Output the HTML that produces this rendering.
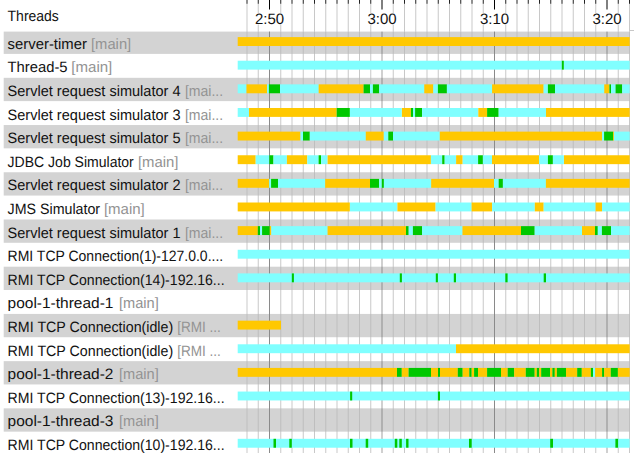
<!DOCTYPE html><html><head><meta charset="utf-8"><style>html,body{margin:0;padding:0;background:#fff;overflow:hidden;width:634px;height:453px}svg{display:block}text{font-family:"Liberation Sans",sans-serif;text-rendering:geometricPrecision}</style></head><body>
<svg width="634" height="453" viewBox="0 0 634 453">
<rect x="0" y="0" width="634" height="453" fill="#fff"/>
<rect x="3.7" y="31.6" width="626.1" height="22.3" fill="#d3d3d3"/>
<rect x="3.7" y="77.82" width="626.1" height="23.3" fill="#d3d3d3"/>
<rect x="3.7" y="125.04" width="626.1" height="23.3" fill="#d3d3d3"/>
<rect x="3.7" y="172.26" width="626.1" height="23.3" fill="#d3d3d3"/>
<rect x="3.7" y="219.48" width="626.1" height="23.3" fill="#d3d3d3"/>
<rect x="3.7" y="266.7" width="626.1" height="23.3" fill="#d3d3d3"/>
<rect x="3.7" y="313.92" width="626.1" height="23.3" fill="#d3d3d3"/>
<rect x="3.7" y="361.14" width="626.1" height="23.3" fill="#d3d3d3"/>
<rect x="3.7" y="408.36" width="626.1" height="23.3" fill="#d3d3d3"/>
<rect x="246.5" y="31.6" width="1" height="421.4" fill="#b8b8b8" fill-opacity="0.77"/>
<rect x="257.75" y="31.6" width="1" height="421.4" fill="#b8b8b8" fill-opacity="0.77"/>
<rect x="280.25" y="31.6" width="1" height="421.4" fill="#b8b8b8" fill-opacity="0.77"/>
<rect x="291.5" y="31.6" width="1" height="421.4" fill="#b8b8b8" fill-opacity="0.77"/>
<rect x="302.75" y="31.6" width="1" height="421.4" fill="#b8b8b8" fill-opacity="0.77"/>
<rect x="314" y="31.6" width="1" height="421.4" fill="#b8b8b8" fill-opacity="0.77"/>
<rect x="325.25" y="31.6" width="1" height="421.4" fill="#b8b8b8" fill-opacity="0.77"/>
<rect x="336.5" y="31.6" width="1" height="421.4" fill="#b8b8b8" fill-opacity="0.77"/>
<rect x="347.75" y="31.6" width="1" height="421.4" fill="#b8b8b8" fill-opacity="0.77"/>
<rect x="359" y="31.6" width="1" height="421.4" fill="#b8b8b8" fill-opacity="0.77"/>
<rect x="370.25" y="31.6" width="1" height="421.4" fill="#b8b8b8" fill-opacity="0.77"/>
<rect x="392.75" y="31.6" width="1" height="421.4" fill="#b8b8b8" fill-opacity="0.77"/>
<rect x="404" y="31.6" width="1" height="421.4" fill="#b8b8b8" fill-opacity="0.77"/>
<rect x="415.25" y="31.6" width="1" height="421.4" fill="#b8b8b8" fill-opacity="0.77"/>
<rect x="426.5" y="31.6" width="1" height="421.4" fill="#b8b8b8" fill-opacity="0.77"/>
<rect x="437.75" y="31.6" width="1" height="421.4" fill="#b8b8b8" fill-opacity="0.77"/>
<rect x="449" y="31.6" width="1" height="421.4" fill="#b8b8b8" fill-opacity="0.77"/>
<rect x="460.25" y="31.6" width="1" height="421.4" fill="#b8b8b8" fill-opacity="0.77"/>
<rect x="471.5" y="31.6" width="1" height="421.4" fill="#b8b8b8" fill-opacity="0.77"/>
<rect x="482.75" y="31.6" width="1" height="421.4" fill="#b8b8b8" fill-opacity="0.77"/>
<rect x="505.25" y="31.6" width="1" height="421.4" fill="#b8b8b8" fill-opacity="0.77"/>
<rect x="516.5" y="31.6" width="1" height="421.4" fill="#b8b8b8" fill-opacity="0.77"/>
<rect x="527.75" y="31.6" width="1" height="421.4" fill="#b8b8b8" fill-opacity="0.77"/>
<rect x="539" y="31.6" width="1" height="421.4" fill="#b8b8b8" fill-opacity="0.77"/>
<rect x="550.25" y="31.6" width="1" height="421.4" fill="#b8b8b8" fill-opacity="0.77"/>
<rect x="561.5" y="31.6" width="1" height="421.4" fill="#b8b8b8" fill-opacity="0.77"/>
<rect x="572.75" y="31.6" width="1" height="421.4" fill="#b8b8b8" fill-opacity="0.77"/>
<rect x="584" y="31.6" width="1" height="421.4" fill="#b8b8b8" fill-opacity="0.77"/>
<rect x="595.25" y="31.6" width="1" height="421.4" fill="#b8b8b8" fill-opacity="0.77"/>
<rect x="617.75" y="31.6" width="1" height="421.4" fill="#b8b8b8" fill-opacity="0.77"/>
<rect x="629" y="31.6" width="1" height="421.4" fill="#b8b8b8" fill-opacity="0.77"/>
<rect x="269" y="31.6" width="1" height="421.4" fill="#8a8a8a"/>
<rect x="381" y="31.6" width="2" height="421.4" fill="#535353" fill-opacity="0.27"/>
<rect x="494" y="31.6" width="1" height="421.4" fill="#8a8a8a"/>
<rect x="606" y="31.6" width="2" height="421.4" fill="#535353" fill-opacity="0.27"/>
<rect x="246.5" y="3.8" width="1" height="27.8" fill="#b8b8b8" fill-opacity="0.77"/>
<rect x="257.75" y="3.8" width="1" height="27.8" fill="#b8b8b8" fill-opacity="0.77"/>
<rect x="280.25" y="3.8" width="1" height="27.8" fill="#b8b8b8" fill-opacity="0.77"/>
<rect x="291.5" y="3.8" width="1" height="27.8" fill="#b8b8b8" fill-opacity="0.77"/>
<rect x="302.75" y="3.8" width="1" height="27.8" fill="#b8b8b8" fill-opacity="0.77"/>
<rect x="314" y="3.8" width="1" height="27.8" fill="#b8b8b8" fill-opacity="0.77"/>
<rect x="325.25" y="3.8" width="1" height="27.8" fill="#b8b8b8" fill-opacity="0.77"/>
<rect x="336.5" y="3.8" width="1" height="27.8" fill="#b8b8b8" fill-opacity="0.77"/>
<rect x="347.75" y="3.8" width="1" height="27.8" fill="#b8b8b8" fill-opacity="0.77"/>
<rect x="359" y="3.8" width="1" height="27.8" fill="#b8b8b8" fill-opacity="0.77"/>
<rect x="370.25" y="3.8" width="1" height="27.8" fill="#b8b8b8" fill-opacity="0.77"/>
<rect x="392.75" y="3.8" width="1" height="27.8" fill="#b8b8b8" fill-opacity="0.77"/>
<rect x="404" y="3.8" width="1" height="27.8" fill="#b8b8b8" fill-opacity="0.77"/>
<rect x="415.25" y="3.8" width="1" height="27.8" fill="#b8b8b8" fill-opacity="0.77"/>
<rect x="426.5" y="3.8" width="1" height="27.8" fill="#b8b8b8" fill-opacity="0.77"/>
<rect x="437.75" y="3.8" width="1" height="27.8" fill="#b8b8b8" fill-opacity="0.77"/>
<rect x="449" y="3.8" width="1" height="27.8" fill="#b8b8b8" fill-opacity="0.77"/>
<rect x="460.25" y="3.8" width="1" height="27.8" fill="#b8b8b8" fill-opacity="0.77"/>
<rect x="471.5" y="3.8" width="1" height="27.8" fill="#b8b8b8" fill-opacity="0.77"/>
<rect x="482.75" y="3.8" width="1" height="27.8" fill="#b8b8b8" fill-opacity="0.77"/>
<rect x="505.25" y="3.8" width="1" height="27.8" fill="#b8b8b8" fill-opacity="0.77"/>
<rect x="516.5" y="3.8" width="1" height="27.8" fill="#b8b8b8" fill-opacity="0.77"/>
<rect x="527.75" y="3.8" width="1" height="27.8" fill="#b8b8b8" fill-opacity="0.77"/>
<rect x="539" y="3.8" width="1" height="27.8" fill="#b8b8b8" fill-opacity="0.77"/>
<rect x="550.25" y="3.8" width="1" height="27.8" fill="#b8b8b8" fill-opacity="0.77"/>
<rect x="561.5" y="3.8" width="1" height="27.8" fill="#b8b8b8" fill-opacity="0.77"/>
<rect x="572.75" y="3.8" width="1" height="27.8" fill="#b8b8b8" fill-opacity="0.77"/>
<rect x="584" y="3.8" width="1" height="27.8" fill="#b8b8b8" fill-opacity="0.77"/>
<rect x="595.25" y="3.8" width="1" height="27.8" fill="#b8b8b8" fill-opacity="0.77"/>
<rect x="617.75" y="3.8" width="1" height="27.8" fill="#b8b8b8" fill-opacity="0.77"/>
<rect x="629" y="3.8" width="1" height="27.8" fill="#b8b8b8" fill-opacity="0.77"/>
<rect x="246.5" y="0" width="1" height="3.8" fill="#222"/>
<rect x="257.75" y="0" width="1" height="3.8" fill="#222"/>
<rect x="280.25" y="0" width="1" height="3.8" fill="#222"/>
<rect x="291.5" y="0" width="1" height="3.8" fill="#222"/>
<rect x="302.75" y="0" width="1" height="3.8" fill="#222"/>
<rect x="314" y="0" width="1" height="3.8" fill="#222"/>
<rect x="325.25" y="0" width="1" height="3.8" fill="#222"/>
<rect x="336.5" y="0" width="1" height="3.8" fill="#222"/>
<rect x="347.75" y="0" width="1" height="3.8" fill="#222"/>
<rect x="359" y="0" width="1" height="3.8" fill="#222"/>
<rect x="370.25" y="0" width="1" height="3.8" fill="#222"/>
<rect x="392.75" y="0" width="1" height="3.8" fill="#222"/>
<rect x="404" y="0" width="1" height="3.8" fill="#222"/>
<rect x="415.25" y="0" width="1" height="3.8" fill="#222"/>
<rect x="426.5" y="0" width="1" height="3.8" fill="#222"/>
<rect x="437.75" y="0" width="1" height="3.8" fill="#222"/>
<rect x="449" y="0" width="1" height="3.8" fill="#222"/>
<rect x="460.25" y="0" width="1" height="3.8" fill="#222"/>
<rect x="471.5" y="0" width="1" height="3.8" fill="#222"/>
<rect x="482.75" y="0" width="1" height="3.8" fill="#222"/>
<rect x="505.25" y="0" width="1" height="3.8" fill="#222"/>
<rect x="516.5" y="0" width="1" height="3.8" fill="#222"/>
<rect x="527.75" y="0" width="1" height="3.8" fill="#222"/>
<rect x="539" y="0" width="1" height="3.8" fill="#222"/>
<rect x="550.25" y="0" width="1" height="3.8" fill="#222"/>
<rect x="561.5" y="0" width="1" height="3.8" fill="#222"/>
<rect x="572.75" y="0" width="1" height="3.8" fill="#222"/>
<rect x="584" y="0" width="1" height="3.8" fill="#222"/>
<rect x="595.25" y="0" width="1" height="3.8" fill="#222"/>
<rect x="617.75" y="0" width="1" height="3.8" fill="#222"/>
<rect x="629" y="0" width="1" height="3.8" fill="#222"/>
<rect x="269" y="0" width="1" height="9.5" fill="#000"/>
<rect x="381.5" y="0" width="1" height="9.5" fill="#000"/>
<rect x="494" y="0" width="1" height="9.5" fill="#000"/>
<rect x="606.5" y="0" width="1" height="9.5" fill="#000"/>
<rect x="255" y="13" width="29" height="11.5" fill="#fff"/>
<text x="269.5" y="23.7" font-size="15" text-anchor="middle" fill="#111">2:50</text>
<rect x="367.5" y="13" width="29" height="11.5" fill="#fff"/>
<text x="382" y="23.7" font-size="15" text-anchor="middle" fill="#111">3:00</text>
<rect x="480" y="13" width="29" height="11.5" fill="#fff"/>
<text x="494.5" y="23.7" font-size="15" text-anchor="middle" fill="#111">3:10</text>
<rect x="592.5" y="13" width="29" height="11.5" fill="#fff"/>
<text x="607" y="23.7" font-size="15" text-anchor="middle" fill="#111">3:20</text>
<rect x="237.7" y="37.1" width="392" height="8.9" fill="#FFC800"/>
<rect x="237.7" y="60.73" width="324.1" height="8.9" fill="#80FFFF"/>
<rect x="561.8" y="60.73" width="2.1" height="8.9" fill="#00C800"/>
<rect x="563.9" y="60.73" width="65.8" height="8.9" fill="#80FFFF"/>
<rect x="237.7" y="84.36" width="8.8" height="8.9" fill="#80FFFF"/>
<rect x="246.5" y="84.36" width="20.5" height="8.9" fill="#FFC800"/>
<rect x="267" y="84.36" width="1.9" height="8.9" fill="#80FFFF"/>
<rect x="268.9" y="84.36" width="11.1" height="8.9" fill="#00C800"/>
<rect x="280" y="84.36" width="38.7" height="8.9" fill="#80FFFF"/>
<rect x="318.7" y="84.36" width="44.9" height="8.9" fill="#FFC800"/>
<rect x="363.6" y="84.36" width="6.4" height="8.9" fill="#00C800"/>
<rect x="370" y="84.36" width="2.9" height="8.9" fill="#80FFFF"/>
<rect x="372.9" y="84.36" width="6.3" height="8.9" fill="#00C800"/>
<rect x="379.2" y="84.36" width="45.1" height="8.9" fill="#80FFFF"/>
<rect x="424.3" y="84.36" width="9" height="8.9" fill="#FFC800"/>
<rect x="433.3" y="84.36" width="4.6" height="8.9" fill="#80FFFF"/>
<rect x="437.9" y="84.36" width="9" height="8.9" fill="#00C800"/>
<rect x="446.9" y="84.36" width="45.2" height="8.9" fill="#80FFFF"/>
<rect x="492.1" y="84.36" width="51.5" height="8.9" fill="#FFC800"/>
<rect x="543.6" y="84.36" width="4.3" height="8.9" fill="#80FFFF"/>
<rect x="547.9" y="84.36" width="7.1" height="8.9" fill="#00C800"/>
<rect x="555" y="84.36" width="49.3" height="8.9" fill="#80FFFF"/>
<rect x="604.3" y="84.36" width="4.9" height="8.9" fill="#FFC800"/>
<rect x="609.4" y="84.36" width="1.6" height="8.9" fill="#00C800"/>
<rect x="611" y="84.36" width="4.6" height="8.9" fill="#80FFFF"/>
<rect x="615.6" y="84.36" width="6.6" height="8.9" fill="#00C800"/>
<rect x="622.2" y="84.36" width="7.5" height="8.9" fill="#80FFFF"/>
<rect x="237.7" y="107.99" width="11.3" height="8.9" fill="#80FFFF"/>
<rect x="249" y="107.99" width="87.7" height="8.9" fill="#FFC800"/>
<rect x="336.7" y="107.99" width="13.2" height="8.9" fill="#00C800"/>
<rect x="349.9" y="107.99" width="51.9" height="8.9" fill="#80FFFF"/>
<rect x="401.9" y="107.99" width="9" height="8.9" fill="#FFC800"/>
<rect x="410.9" y="107.99" width="2.1" height="8.9" fill="#00C800"/>
<rect x="413" y="107.99" width="2.1" height="8.9" fill="#80FFFF"/>
<rect x="415.1" y="107.99" width="7" height="8.9" fill="#00C800"/>
<rect x="422.1" y="107.99" width="56.2" height="8.9" fill="#80FFFF"/>
<rect x="478.3" y="107.99" width="8.8" height="8.9" fill="#FFC800"/>
<rect x="487.1" y="107.99" width="11.6" height="8.9" fill="#00C800"/>
<rect x="498.7" y="107.99" width="47.3" height="8.9" fill="#80FFFF"/>
<rect x="546" y="107.99" width="83.7" height="8.9" fill="#FFC800"/>
<rect x="237.7" y="131.62" width="62.8" height="8.9" fill="#FFC800"/>
<rect x="300.5" y="131.62" width="2.5" height="8.9" fill="#80FFFF"/>
<rect x="303" y="131.62" width="6.8" height="8.9" fill="#00C800"/>
<rect x="309.8" y="131.62" width="56" height="8.9" fill="#80FFFF"/>
<rect x="365.8" y="131.62" width="18" height="8.9" fill="#FFC800"/>
<rect x="383.8" y="131.62" width="4.5" height="8.9" fill="#80FFFF"/>
<rect x="388.3" y="131.62" width="4.7" height="8.9" fill="#00C800"/>
<rect x="393" y="131.62" width="46.8" height="8.9" fill="#80FFFF"/>
<rect x="439.8" y="131.62" width="162.2" height="8.9" fill="#FFC800"/>
<rect x="602" y="131.62" width="2.1" height="8.9" fill="#80FFFF"/>
<rect x="604.1" y="131.62" width="9.1" height="8.9" fill="#00C800"/>
<rect x="613.2" y="131.62" width="0.8" height="8.9" fill="#FFC800"/>
<rect x="614" y="131.62" width="15.7" height="8.9" fill="#80FFFF"/>
<rect x="237.7" y="155.25" width="18" height="8.9" fill="#FFC800"/>
<rect x="255.7" y="155.25" width="13.6" height="8.9" fill="#80FFFF"/>
<rect x="269.3" y="155.25" width="4.2" height="8.9" fill="#00C800"/>
<rect x="273.5" y="155.25" width="13.4" height="8.9" fill="#80FFFF"/>
<rect x="286.9" y="155.25" width="20.4" height="8.9" fill="#FFC800"/>
<rect x="307.3" y="155.25" width="11.4" height="8.9" fill="#80FFFF"/>
<rect x="318.6" y="155.25" width="2.5" height="8.9" fill="#00C800"/>
<rect x="321.1" y="155.25" width="6.5" height="8.9" fill="#80FFFF"/>
<rect x="327.6" y="155.25" width="103.3" height="8.9" fill="#FFC800"/>
<rect x="430.9" y="155.25" width="11.3" height="8.9" fill="#80FFFF"/>
<rect x="442.2" y="155.25" width="2.5" height="8.9" fill="#00C800"/>
<rect x="444.7" y="155.25" width="11.3" height="8.9" fill="#80FFFF"/>
<rect x="456.1" y="155.25" width="6.6" height="8.9" fill="#FFC800"/>
<rect x="462.7" y="155.25" width="15.4" height="8.9" fill="#80FFFF"/>
<rect x="478.1" y="155.25" width="4.8" height="8.9" fill="#00C800"/>
<rect x="482.9" y="155.25" width="9.1" height="8.9" fill="#80FFFF"/>
<rect x="492" y="155.25" width="47" height="8.9" fill="#FFC800"/>
<rect x="539" y="155.25" width="8.9" height="8.9" fill="#80FFFF"/>
<rect x="547.9" y="155.25" width="5" height="8.9" fill="#00C800"/>
<rect x="552.9" y="155.25" width="11" height="8.9" fill="#80FFFF"/>
<rect x="564" y="155.25" width="65.7" height="8.9" fill="#FFC800"/>
<rect x="237.7" y="178.88" width="31.4" height="8.9" fill="#FFC800"/>
<rect x="269.1" y="178.88" width="2" height="8.9" fill="#80FFFF"/>
<rect x="271.1" y="178.88" width="6.9" height="8.9" fill="#00C800"/>
<rect x="278" y="178.88" width="47.2" height="8.9" fill="#80FFFF"/>
<rect x="325.2" y="178.88" width="44.8" height="8.9" fill="#FFC800"/>
<rect x="370" y="178.88" width="9.1" height="8.9" fill="#00C800"/>
<rect x="379.1" y="178.88" width="2.7" height="8.9" fill="#80FFFF"/>
<rect x="381.8" y="178.88" width="2.1" height="8.9" fill="#00C800"/>
<rect x="383.9" y="178.88" width="47.3" height="8.9" fill="#80FFFF"/>
<rect x="431.2" y="178.88" width="62.8" height="8.9" fill="#FFC800"/>
<rect x="494" y="178.88" width="4.7" height="8.9" fill="#80FFFF"/>
<rect x="498.7" y="178.88" width="4.2" height="8.9" fill="#00C800"/>
<rect x="502.9" y="178.88" width="43" height="8.9" fill="#80FFFF"/>
<rect x="545.9" y="178.88" width="83.8" height="8.9" fill="#FFC800"/>
<rect x="237.7" y="202.51" width="112.2" height="8.9" fill="#FFC800"/>
<rect x="349.9" y="202.51" width="47.5" height="8.9" fill="#80FFFF"/>
<rect x="397.4" y="202.51" width="38.2" height="8.9" fill="#FFC800"/>
<rect x="435.6" y="202.51" width="36" height="8.9" fill="#80FFFF"/>
<rect x="471.6" y="202.51" width="20.5" height="8.9" fill="#FFC800"/>
<rect x="492.1" y="202.51" width="42.7" height="8.9" fill="#80FFFF"/>
<rect x="534.8" y="202.51" width="8.9" height="8.9" fill="#FFC800"/>
<rect x="543.7" y="202.51" width="51.9" height="8.9" fill="#80FFFF"/>
<rect x="595.6" y="202.51" width="6.4" height="8.9" fill="#FFC800"/>
<rect x="602" y="202.51" width="27.7" height="8.9" fill="#80FFFF"/>
<rect x="237.7" y="226.14" width="20.1" height="8.9" fill="#FFC800"/>
<rect x="257.8" y="226.14" width="2.2" height="8.9" fill="#00C800"/>
<rect x="260" y="226.14" width="2.1" height="8.9" fill="#80FFFF"/>
<rect x="262.1" y="226.14" width="7.7" height="8.9" fill="#00C800"/>
<rect x="269.8" y="226.14" width="1.5" height="8.9" fill="#FFC800"/>
<rect x="271.3" y="226.14" width="56.3" height="8.9" fill="#80FFFF"/>
<rect x="327.6" y="226.14" width="78.4" height="8.9" fill="#FFC800"/>
<rect x="406" y="226.14" width="2.7" height="8.9" fill="#00C800"/>
<rect x="408.7" y="226.14" width="4.2" height="8.9" fill="#80FFFF"/>
<rect x="412.9" y="226.14" width="9.2" height="8.9" fill="#00C800"/>
<rect x="422.1" y="226.14" width="40.4" height="8.9" fill="#80FFFF"/>
<rect x="462.5" y="226.14" width="58.5" height="8.9" fill="#FFC800"/>
<rect x="521" y="226.14" width="13.7" height="8.9" fill="#00C800"/>
<rect x="534.7" y="226.14" width="47.3" height="8.9" fill="#80FFFF"/>
<rect x="582" y="226.14" width="13" height="8.9" fill="#FFC800"/>
<rect x="595" y="226.14" width="2.8" height="8.9" fill="#00C800"/>
<rect x="597.8" y="226.14" width="4.1" height="8.9" fill="#80FFFF"/>
<rect x="601.9" y="226.14" width="9.1" height="8.9" fill="#00C800"/>
<rect x="611" y="226.14" width="18.7" height="8.9" fill="#80FFFF"/>
<rect x="237.7" y="249.77" width="392" height="8.9" fill="#80FFFF"/>
<rect x="237.7" y="273.4" width="392" height="8.9" fill="#80FFFF"/>
<rect x="291.8" y="273.4" width="2.1" height="8.9" fill="#00C800"/>
<rect x="399.8" y="273.4" width="2.1" height="8.9" fill="#00C800"/>
<rect x="435.8" y="273.4" width="2.1" height="8.9" fill="#00C800"/>
<rect x="453.8" y="273.4" width="2.2" height="8.9" fill="#00C800"/>
<rect x="505.3" y="273.4" width="2.3" height="8.9" fill="#00C800"/>
<rect x="543.7" y="273.4" width="2.3" height="8.9" fill="#00C800"/>
<rect x="237.7" y="320.66" width="43.3" height="8.9" fill="#FFC800"/>
<rect x="237.7" y="344.29" width="218.3" height="8.9" fill="#80FFFF"/>
<rect x="456" y="344.29" width="173.7" height="8.9" fill="#FFC800"/>
<rect x="237.7" y="367.92" width="159.3" height="8.9" fill="#FFC800"/>
<rect x="397" y="367.92" width="4.8" height="8.9" fill="#00C800"/>
<rect x="401.8" y="367.92" width="6.8" height="8.9" fill="#FFC800"/>
<rect x="408.6" y="367.92" width="22.4" height="8.9" fill="#00C800"/>
<rect x="431" y="367.92" width="7" height="8.9" fill="#FFC800"/>
<rect x="438" y="367.92" width="2" height="8.9" fill="#00C800"/>
<rect x="440" y="367.92" width="17.8" height="8.9" fill="#FFC800"/>
<rect x="457.8" y="367.92" width="4.9" height="8.9" fill="#00C800"/>
<rect x="462.7" y="367.92" width="6.6" height="8.9" fill="#FFC800"/>
<rect x="469.3" y="367.92" width="2.4" height="8.9" fill="#00C800"/>
<rect x="471.7" y="367.92" width="2.4" height="8.9" fill="#FFC800"/>
<rect x="474.1" y="367.92" width="3.9" height="8.9" fill="#00C800"/>
<rect x="478" y="367.92" width="9.1" height="8.9" fill="#FFC800"/>
<rect x="487.1" y="367.92" width="13.9" height="8.9" fill="#00C800"/>
<rect x="501" y="367.92" width="6.7" height="8.9" fill="#FFC800"/>
<rect x="507.7" y="367.92" width="6.5" height="8.9" fill="#00C800"/>
<rect x="514.2" y="367.92" width="11.6" height="8.9" fill="#FFC800"/>
<rect x="525.8" y="367.92" width="8.9" height="8.9" fill="#00C800"/>
<rect x="534.7" y="367.92" width="2.1" height="8.9" fill="#FFC800"/>
<rect x="536.8" y="367.92" width="2.4" height="8.9" fill="#00C800"/>
<rect x="539.2" y="367.92" width="2" height="8.9" fill="#FFC800"/>
<rect x="541.2" y="367.92" width="8.9" height="8.9" fill="#00C800"/>
<rect x="550.1" y="367.92" width="2.3" height="8.9" fill="#FFC800"/>
<rect x="552.4" y="367.92" width="2.4" height="8.9" fill="#00C800"/>
<rect x="554.8" y="367.92" width="2.1" height="8.9" fill="#FFC800"/>
<rect x="556.9" y="367.92" width="9.1" height="8.9" fill="#00C800"/>
<rect x="566" y="367.92" width="11.2" height="8.9" fill="#FFC800"/>
<rect x="577.2" y="367.92" width="4.6" height="8.9" fill="#00C800"/>
<rect x="581.8" y="367.92" width="9.1" height="8.9" fill="#FFC800"/>
<rect x="590.9" y="367.92" width="2.1" height="8.9" fill="#00C800"/>
<rect x="593" y="367.92" width="2.1" height="8.9" fill="#80FFFF"/>
<rect x="595.1" y="367.92" width="7" height="8.9" fill="#FFC800"/>
<rect x="602.1" y="367.92" width="2.1" height="8.9" fill="#00C800"/>
<rect x="604.2" y="367.92" width="6.6" height="8.9" fill="#FFC800"/>
<rect x="610.8" y="367.92" width="7.1" height="8.9" fill="#00C800"/>
<rect x="617.9" y="367.92" width="11.8" height="8.9" fill="#FFC800"/>
<rect x="237.7" y="391.55" width="392" height="8.9" fill="#80FFFF"/>
<rect x="350.1" y="391.55" width="2.1" height="8.9" fill="#00C800"/>
<rect x="437.9" y="391.55" width="2.1" height="8.9" fill="#00C800"/>
<rect x="237.7" y="438.81" width="392" height="8.9" fill="#80FFFF"/>
<rect x="273.5" y="438.81" width="2.5" height="8.9" fill="#00C800"/>
<rect x="289.3" y="438.81" width="2.5" height="8.9" fill="#00C800"/>
<rect x="350" y="438.81" width="2.5" height="8.9" fill="#00C800"/>
<rect x="365.7" y="438.81" width="2.5" height="8.9" fill="#00C800"/>
<rect x="394.8" y="438.81" width="2.5" height="8.9" fill="#00C800"/>
<rect x="399.3" y="438.81" width="2.5" height="8.9" fill="#00C800"/>
<rect x="406.1" y="438.81" width="2.4" height="8.9" fill="#00C800"/>
<rect x="469" y="438.81" width="2.7" height="8.9" fill="#00C800"/>
<rect x="550.2" y="438.81" width="2.8" height="8.9" fill="#00C800"/>
<rect x="615.4" y="438.81" width="2.7" height="8.9" fill="#00C800"/>
<text x="7.6" y="21" font-size="15" fill="#111" textLength="51.2" lengthAdjust="spacingAndGlyphs">Threads</text>
<rect x="630" y="30" width="4" height="1" fill="#c8c8c8"/>
<text x="7.6" y="48.7" font-size="15" fill="#111" textLength="79.3" lengthAdjust="spacingAndGlyphs">server-timer</text>
<text x="91" y="48.7" font-size="15" fill="#939393" textLength="40.2" lengthAdjust="spacingAndGlyphs">[main]</text>
<text x="7.6" y="72.31" font-size="15" fill="#111" textLength="60" lengthAdjust="spacingAndGlyphs">Thread-5</text>
<text x="71.3" y="72.31" font-size="15" fill="#939393" textLength="41" lengthAdjust="spacingAndGlyphs">[main]</text>
<text x="7.6" y="95.92" font-size="15" fill="#111" textLength="172.9" lengthAdjust="spacingAndGlyphs">Servlet request simulator 4</text>
<text x="184.9" y="95.92" font-size="15" fill="#939393" textLength="38.3" lengthAdjust="spacingAndGlyphs">[mai...</text>
<text x="7.6" y="119.53" font-size="15" fill="#111" textLength="172.9" lengthAdjust="spacingAndGlyphs">Servlet request simulator 3</text>
<text x="184.9" y="119.53" font-size="15" fill="#939393" textLength="38.3" lengthAdjust="spacingAndGlyphs">[mai...</text>
<text x="7.6" y="143.14" font-size="15" fill="#111" textLength="172.9" lengthAdjust="spacingAndGlyphs">Servlet request simulator 5</text>
<text x="184.9" y="143.14" font-size="15" fill="#939393" textLength="38.3" lengthAdjust="spacingAndGlyphs">[mai...</text>
<text x="7.6" y="166.75" font-size="15" fill="#111" textLength="126.2" lengthAdjust="spacingAndGlyphs">JDBC Job Simulator</text>
<text x="137.9" y="166.75" font-size="15" fill="#939393" textLength="40.6" lengthAdjust="spacingAndGlyphs">[main]</text>
<text x="7.6" y="190.36" font-size="15" fill="#111" textLength="172.9" lengthAdjust="spacingAndGlyphs">Servlet request simulator 2</text>
<text x="184.9" y="190.36" font-size="15" fill="#939393" textLength="38.3" lengthAdjust="spacingAndGlyphs">[mai...</text>
<text x="7.6" y="213.97" font-size="15" fill="#111" textLength="92.5" lengthAdjust="spacingAndGlyphs">JMS Simulator</text>
<text x="103.9" y="213.97" font-size="15" fill="#939393" textLength="40.9" lengthAdjust="spacingAndGlyphs">[main]</text>
<text x="7.6" y="237.58" font-size="15" fill="#111" textLength="172.9" lengthAdjust="spacingAndGlyphs">Servlet request simulator 1</text>
<text x="184.9" y="237.58" font-size="15" fill="#939393" textLength="38.3" lengthAdjust="spacingAndGlyphs">[mai...</text>
<text x="7.6" y="261.19" font-size="15" fill="#111" textLength="215.6" lengthAdjust="spacingAndGlyphs">RMI TCP Connection(1)-127.0.0....</text>
<text x="7.6" y="284.8" font-size="15" fill="#111" textLength="217" lengthAdjust="spacingAndGlyphs">RMI TCP Connection(14)-192.16...</text>
<text x="7.6" y="308.41" font-size="15" fill="#111" textLength="105.8" lengthAdjust="spacingAndGlyphs">pool-1-thread-1</text>
<text x="119" y="308.41" font-size="15" fill="#939393" textLength="39.8" lengthAdjust="spacingAndGlyphs">[main]</text>
<text x="7.6" y="332.02" font-size="15" fill="#111" textLength="165.6" lengthAdjust="spacingAndGlyphs">RMI TCP Connection(idle)</text>
<text x="177.2" y="332.02" font-size="15" fill="#939393" textLength="43.7" lengthAdjust="spacingAndGlyphs">[RMI ...</text>
<text x="7.6" y="355.63" font-size="15" fill="#111" textLength="165.6" lengthAdjust="spacingAndGlyphs">RMI TCP Connection(idle)</text>
<text x="177.2" y="355.63" font-size="15" fill="#939393" textLength="43.7" lengthAdjust="spacingAndGlyphs">[RMI ...</text>
<text x="7.6" y="379.24" font-size="15" fill="#111" textLength="105.8" lengthAdjust="spacingAndGlyphs">pool-1-thread-2</text>
<text x="119" y="379.24" font-size="15" fill="#939393" textLength="39.8" lengthAdjust="spacingAndGlyphs">[main]</text>
<text x="7.6" y="402.85" font-size="15" fill="#111" textLength="217" lengthAdjust="spacingAndGlyphs">RMI TCP Connection(13)-192.16...</text>
<text x="7.6" y="426.46" font-size="15" fill="#111" textLength="105.8" lengthAdjust="spacingAndGlyphs">pool-1-thread-3</text>
<text x="119" y="426.46" font-size="15" fill="#939393" textLength="39.8" lengthAdjust="spacingAndGlyphs">[main]</text>
<text x="7.6" y="450.07" font-size="15" fill="#111" textLength="217" lengthAdjust="spacingAndGlyphs">RMI TCP Connection(10)-192.16...</text>
</svg></body></html>
